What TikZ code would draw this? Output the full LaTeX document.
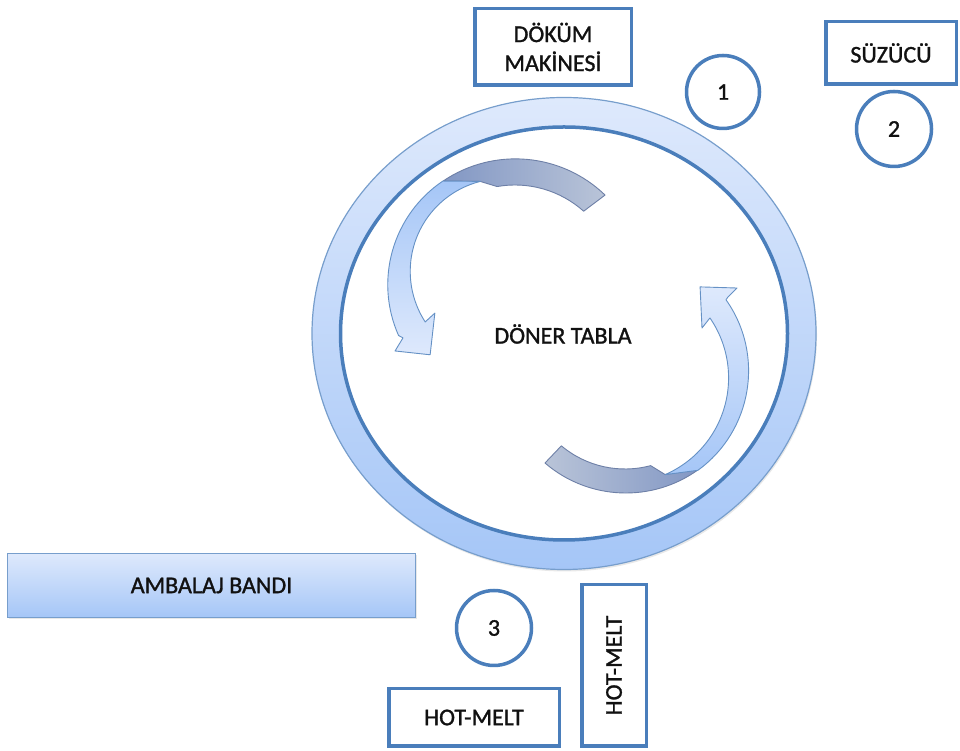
\documentclass[tikz,border=0pt]{standalone}
\usepackage{fontspec}
\setmainfont{Carlito}[FakeBold=1.2]
\newfontfamily\kalin{Carlito}[FakeBold=1.2]
\usetikzlibrary{shadows}
\definecolor{kenar}{HTML}{4A7EBB}
\definecolor{acikmavi}{HTML}{DEE9FC}
\definecolor{koyumavi}{HTML}{A5C6F7}
\definecolor{grimavi}{HTML}{8297C4}
\definecolor{acikgri}{HTML}{B9C4D8}
\definecolor{yazi}{HTML}{111111}
\begin{document}
\begin{tikzpicture}[x=1pt, y=1pt,
        font=\kalin\fontsize{24}{29}\selectfont, text=yazi,
        kutu/.style={draw=kenar, line width=3.5pt, fill=white, align=center, inner sep=0pt},
        daire/.style={draw=kenar, line width=3.5pt, fill=white, circle, minimum size=73pt, inner sep=0pt},
        bant/.style={draw=kenar!75, line width=1.2pt, top color=acikmavi, bottom color=koyumavi,
            drop shadow={shadow xshift=1pt, shadow yshift=-2pt, opacity=0.18}},
        onyuz/.style={draw=kenar!85, line width=0.9pt, line join=round},
        arkayuz/.style={draw=grimavi!85!black, line width=0.9pt, line join=round}]
    \useasboundingbox (0,0) rectangle (960,751);
    % doner tabla
    \draw[bant] (564,417.5) ellipse [x radius=252, y radius=236];
    \draw[draw=kenar, line width=3.5pt, fill=white] (564,417.5) ellipse [x radius=223.5, y radius=206.5];
    \node (tabla) at (563,417) {DÖNER TABLA};
    % sol ok
    \begin{scope}[shift={(515,463)}]
        \draw[arkayuz, left color=grimavi, right color=acikgri]
            (45.9:129.4) arc[start angle=46, end angle=124, radius=129]
            -- (108:112) -- (100:103) arc[start angle=100, end angle=48.2, radius=103] -- cycle;
        \draw[onyuz, top color=koyumavi, bottom color=acikmavi]
            (124:129) arc[start angle=124, end angle=204, radius=125] -- (204:122.6)
            -- (207.7:135.5) -- (218.2:108) -- (197.4:84) -- (200.7:96)
            arc[start angle=213, end angle=104.1, radius=92.8] -- cycle;
    \end{scope}
    % sag ok
    \begin{scope}[shift={(625,381)}]
        \draw[arkayuz, left color=acikgri, right color=grimavi]
            (229.3:122.7) arc[start angle=229.3, end angle=306, radius=124]
            -- (291:112) -- (285:99) arc[start angle=285, end angle=230, radius=99] -- cycle;
        \draw[onyuz, top color=acikmavi, bottom color=koyumavi]
            (306:124) arc[start angle=306, end angle=395.3, radius=123] -- (395.3:126)
            -- (396.2:138.8) -- (407.9:112) -- (388.6:87.7) -- (391.5:99.6)
            arc[start angle=394.6, end angle=293.5, radius=105.5] -- cycle;
    \end{scope}
    % kutular
    \node[kutu, minimum width=156.5pt, minimum height=76.5pt] (dokum) at (553,704) {DÖKÜM\\MAKİNESİ};
    \node[kutu, minimum width=130.5pt, minimum height=62.5pt] (suzucu) at (891,698) {SÜZÜCÜ};
    \node[bant, minimum width=408pt, minimum height=64pt] (ambalaj) at (211.5,165.5) {AMBALAJ BANDI};
    \node[kutu, minimum width=170.5pt, minimum height=57.5pt] (hotmelt) at (474,33.5) {HOT-MELT};
    \node[kutu, rotate=90, minimum width=161.5pt, minimum height=64.5pt] (hotmeltdik) at (614,85.5) {HOT-MELT};
    % numaralar
    \node[daire] (bir) at (723,659) {1};
    \node[daire, minimum size=75pt] (iki) at (894,622) {2};
    \node[daire, minimum size=75pt] (uc) at (494,123) {3};
\end{tikzpicture}
\end{document}
